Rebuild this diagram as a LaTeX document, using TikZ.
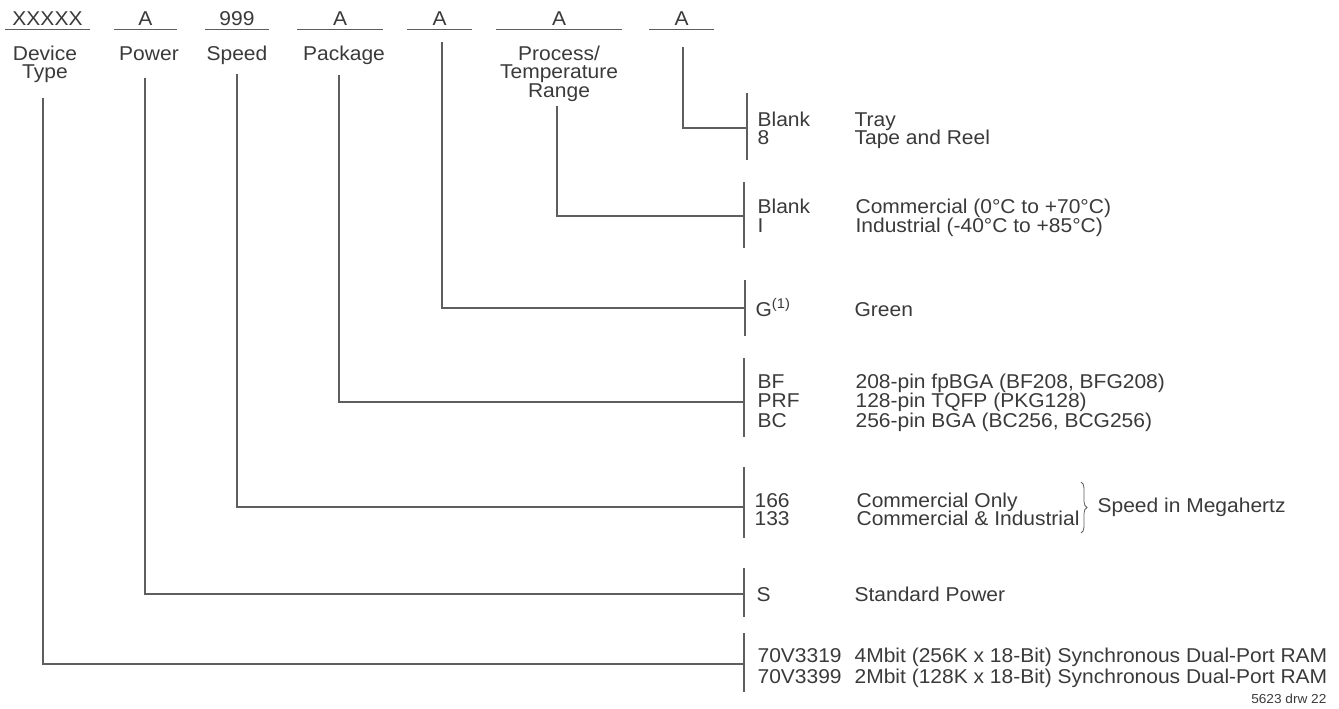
\documentclass[tikz,border=0pt]{standalone}
\usepackage{fontspec}
\setmainfont{Liberation Sans}[FakeStretch=1.05]
\usepackage{tikz}
\usetikzlibrary{decorations.pathreplacing}

\definecolor{ink}{HTML}{3A3A3A}
\definecolor{rule}{HTML}{5E5E5E}

\begin{document}
\begin{tikzpicture}[x=1pt, y=-1pt, line width=1.2pt, color=rule,
                    font=\fontsize{20}{18}\selectfont,
                    field/.style={minimum width=#1, inner xsep=0pt, inner ysep=3pt, text depth=0pt, anchor=base, text=ink},
                    lbl/.style={anchor=base, inner sep=0pt, text=ink},
                    opt/.style={anchor=base west, inner sep=0pt, text=ink}]

\useasboundingbox (0,0) rectangle (1339,709);

% ordering code fields
\node[field=83] (dev) at (47.5,26) {XXXXX};
\node[field=61] (pwr) at (145.5,26) {A};
\node[field=62] (spd) at (237,26) {999};
\node[field=84] (pkg) at (340,26) {A};
\node[field=63] (grn) at (439.5,26) {A};
\node[field=124] (tmp) at (559,26) {A};
\node[field=63] (pck) at (681.5,26) {A};

 \path
    (dev.south west) edge (dev.south east)
    (pwr.south west) edge (pwr.south east)
    (spd.south west) edge (spd.south east)
    (pkg.south west) edge (pkg.south east)
    (grn.south west) edge (grn.south east)
    (tmp.south west) edge (tmp.south east)
    (pck.south west) edge (pck.south east);

% field names
\node[lbl] (devl) at (45,61) {Device};
\node[lbl] (devl2) at (45,79) {Type};
\node[lbl] (pwrl) at (149,61) {Power};
\node[lbl] (spdl) at (237,61) {Speed};
\node[lbl] (pkgl) at (344,61) {Package};
\node[lbl] (tmpl) at (559,61) {Process/};
\node[lbl] (tmpl2) at (559,79) {Temperature};
\node[lbl] (tmpl3) at (559,97) {Range};

% leader tops
\coordinate (pcktop) at (683,47);
\coordinate (tmptop) at (557,106);
\coordinate (grntop) at (442,42);
\coordinate (pkgtop) at (339,75);
\coordinate (spdtop) at (237,74);
\coordinate (pwrtop) at (145,78);
\coordinate (devtop) at (43,98);

% option bars
\coordinate (pckT) at (747,93);  \coordinate (pckB) at (747,160); \coordinate (pckM) at (747,128);
\coordinate (tmpT) at (744,182); \coordinate (tmpB) at (744,248); \coordinate (tmpM) at (744,216);
\coordinate (grnT) at (745,280); \coordinate (grnB) at (745,336); \coordinate (grnM) at (745,308);
\coordinate (pkgT) at (744,358); \coordinate (pkgB) at (744,437); \coordinate (pkgM) at (744,402);
\coordinate (spdT) at (744,467); \coordinate (spdB) at (744,538); \coordinate (spdM) at (744,507);
\coordinate (pwrT) at (744,568); \coordinate (pwrB) at (744,617); \coordinate (pwrM) at (744,594);
\coordinate (devT) at (744,633); \coordinate (devB) at (744,692); \coordinate (devM) at (744,664);

 \path
    (pckT) edge (pckB)
    (tmpT) edge (tmpB)
    (grnT) edge (grnB)
    (pkgT) edge (pkgB)
    (spdT) edge (spdB)
    (pwrT) edge (pwrB)
    (devT) edge (devB);

\draw (pcktop) |- (pckM);
\draw (tmptop) |- (tmpM);
\draw (grntop) |- (grnM);
\draw (pkgtop) |- (pkgM);
\draw (spdtop) |- (spdM);
\draw (pwrtop) |- (pwrM);
\draw (devtop) |- (devM);

% packing
\node[opt] (pck1) at (757,126) {Blank};
\node[opt] (pck2) at (757,144) {8};
\node[opt] (pckd1) at (854,126) {Tray};
\node[opt] (pckd2) at (854,144) {Tape and Reel};

% temperature
\node[opt] (tmp1) at (757,213) {Blank};
\node[opt] (tmp2) at (757,232) {I};
\node[opt] (tmpd1) at (855,213) {Commercial (0°C to +70°C)};
\node[opt] (tmpd2) at (855,232) {Industrial (-40°C to +85°C)};

% green
\node[opt] (grn1) at (755,316) {G\textsuperscript{(1)}};
\node[opt] (grnd1) at (854,316) {Green};

% package
\node[opt] (pkg1) at (757,388) {BF};
\node[opt] (pkg2) at (757,407) {PRF};
\node[opt] (pkg3) at (757,427) {BC};
\node[opt] (pkgd1) at (855,388) {208-pin fpBGA (BF208, BFG208)};
\node[opt] (pkgd2) at (855,407) {128-pin TQFP (PKG128)};
\node[opt] (pkgd3) at (855,427) {256-pin BGA (BC256, BCG256)};

% speed
\node[opt] (spd1) at (754,507) {166};
\node[opt] (spd2) at (754,525) {133};
\node[opt] (spdd1) at (856,507) {Commercial Only};
\node[opt] (spdd2) at (856,525) {Commercial \& Industrial};
\coordinate (braceT) at (1081,482);
\coordinate (braceB) at (1081,533);
\draw[line width=0.8pt, decorate, decoration={brace, amplitude=6pt}] (braceT) -- (braceB);
\node[opt] (mhz) at (1097,512) {Speed in Megahertz};

% power
\node[opt] (pwr1) at (756,601) {S};
\node[opt] (pwrd1) at (854,601) {Standard Power};

% device
\node[opt] (dev1) at (757,662) {70V3319};
\node[opt] (dev2) at (757,683) {70V3399};
\node[opt] (devd1) at (854,662) {4Mbit (256K x 18-Bit) Synchronous Dual-Port RAM};
\node[opt] (devd2) at (854,683) {2Mbit (128K x 18-Bit) Synchronous Dual-Port RAM};

\node[opt, anchor=base east, font=\fontsize{13}{14}\selectfont] (drw) at (1327,703) {5623 drw 22};
\end{tikzpicture}
\end{document}
